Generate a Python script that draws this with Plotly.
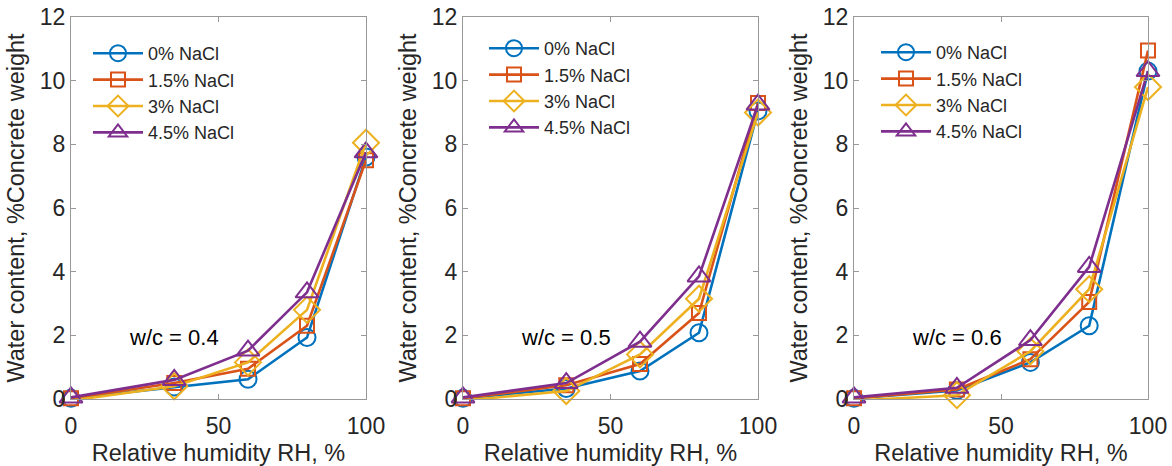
import plotly.graph_objects as go

rh = [0, 35, 60, 80, 100]
series_names = ["0% NaCl", "1.5% NaCl", "3% NaCl", "4.5% NaCl"]
colors = ["#0072BD", "#D95319", "#EDB120", "#7E2F8E"]
symbols = ["circle-open", "square-open", "diamond-open", "triangle-up-open"]

# w/c = 0.4
wc04 = [
    [0.02, 0.38, 0.62, 1.93, 7.6],
    [0.02, 0.50, 0.95, 2.30, 7.5],
    [-0.05, 0.40, 1.15, 2.80, 8.05],
    [0.05, 0.60, 1.52, 3.35, 7.75],
]
# w/c = 0.5
wc05 = [
    [0.02, 0.33, 0.88, 2.08, 9.05],
    [0.02, 0.43, 1.10, 2.70, 9.30],
    [-0.05, 0.25, 1.40, 3.15, 9.00],
    [0.05, 0.50, 1.80, 3.85, 9.25],
]
# w/c = 0.6
wc06 = [
    [0.02, 0.27, 1.15, 2.30, 10.30],
    [0.02, 0.30, 1.25, 3.05, 10.95],
    [-0.05, 0.12, 1.50, 3.45, 9.80],
    [0.05, 0.35, 1.85, 4.15, 10.30],
]
panels = [wc04, wc05, wc06]
panel_labels = ["w/c = 0.4", "w/c = 0.5", "w/c = 0.6"]

W, H = 1172, 466
x_px = [(71, 366), (463, 758), (854, 1148)]
y_top, y_bot = 17, 399
legend_pos = [(88, 35), (484, 30), (876, 34)]
marker_sizes = [17, 14, 20, 20]

font_family = "Liberation Sans, Arial, sans-serif"
txt_color = "#262626"
axis_color = "#999999"

fig = go.Figure()
layout = dict(
    width=W, height=H,
    margin=dict(l=0, r=0, t=0, b=0, autoexpand=False),
    paper_bgcolor="white", plot_bgcolor="white",
    font=dict(family=font_family, size=24, color=txt_color),
    showlegend=True,
)

annotations = []
for p, data in enumerate(panels):
    ax = "" if p == 0 else str(p + 1)
    leg = "legend" if p == 0 else f"legend{p + 1}"
    for i, name in enumerate(series_names):
        fig.add_trace(go.Scatter(
            x=rh, y=data[i], name=name, mode="lines+markers",
            line=dict(color=colors[i], width=2.6),
            marker=dict(symbol=symbols[i], size=marker_sizes[i],
                        color=colors[i], line=dict(width=2, color=colors[i])),
            xaxis="x" + ax, yaxis="y" + ax, legend=leg, cliponaxis=False,
        ))
    x0, x1 = x_px[p]
    layout["xaxis" + ax] = dict(
        domain=[x0 / W, x1 / W], range=[0, 100], anchor="y" + ax,
        tickvals=[0, 50, 100], ticks="inside", ticklen=5, tickcolor=axis_color,
        showline=True, linecolor=axis_color, linewidth=1.3, mirror="ticks",
        showgrid=False, zeroline=False, automargin=False,
        ticklabelstandoff=6,
        tickfont=dict(size=23, color=txt_color),
        title=dict(text="Relative humidity RH, %", font=dict(size=23.5, color=txt_color), standoff=8),
    )
    layout["yaxis" + ax] = dict(
        domain=[1 - y_bot / H, 1 - y_top / H], range=[0, 12], anchor="x" + ax,
        tickvals=[0, 2, 4, 6, 8, 10, 12], ticks="inside", ticklen=5, tickcolor=axis_color,
        showline=True, linecolor=axis_color, linewidth=1.3, mirror="ticks",
        showgrid=False, zeroline=False, automargin=False,
        tickfont=dict(size=23, color=txt_color),
        title=dict(text="Water content, %Concrete weight", font=dict(size=23.5, color=txt_color), standoff=8),
    )
    lx, ly = legend_pos[p]
    layout[leg] = dict(
        x=lx / W, y=1 - ly / H, xanchor="left", yanchor="top",
        bgcolor="rgba(0,0,0,0)", borderwidth=0,
        font=dict(size=18, color=txt_color), itemwidth=50, tracegroupgap=0,
    )
    annotations.append(dict(
        x=35, y=1.92, xref="x" + ax, yref="y" + ax, text=panel_labels[p],
        showarrow=False, font=dict(size=22, color="black"), xanchor="center", yanchor="middle",
    ))

layout["annotations"] = annotations
fig.update_layout(**layout)
fig.write_html("out.html", config={"displayModeBar": False},
               post_script="document.body.style.margin='0';document.body.style.padding='0';")
